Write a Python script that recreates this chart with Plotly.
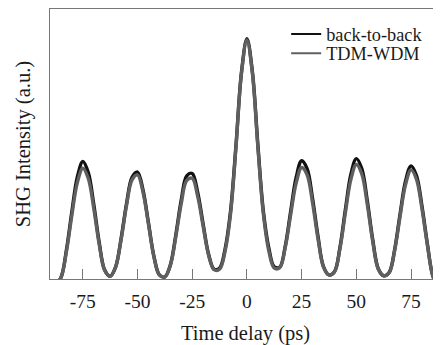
import plotly.graph_objects as go

# Time delay grid (ps)
time_ps = [-90, -87.5, -85, -82.5, -80, -77.5, -75, -72.5, -70, -67.5, -65,
           -62.5, -60, -57.5, -55, -52.5, -50, -47.5, -45, -42.5, -40,
           -37.5, -35, -32.5, -30, -27.5, -25, -22.5, -20, -17.5, -15,
           -12.5, -10, -7.5, -5, -2.5, 0, 2.5, 5, 7.5, 10,
           12.5, 15, 17.5, 20, 22.5, 25, 27.5, 30, 32.5, 35,
           37.5, 40, 42.5, 45, 47.5, 50, 52.5, 55, 57.5, 60,
           62.5, 65, 67.5, 70, 72.5, 75, 77.5, 80, 82.5, 85, 87.5, 90]

back_to_back = [-0.04, -0.02, 0.005, 0.107, 0.25, 0.378, 0.435, 0.394, 0.277, 0.135, 0.033,
                0.01, 0.045, 0.15, 0.28, 0.377, 0.396, 0.33, 0.208, 0.084, 0.015,
                0.008, 0.052, 0.163, 0.293, 0.382, 0.391, 0.321, 0.203, 0.091, 0.036,
                0.04, 0.11, 0.25, 0.495, 0.765, 0.89, 0.768, 0.498, 0.252, 0.115,
                0.045, 0.044, 0.121, 0.251, 0.376, 0.438, 0.409, 0.298, 0.157, 0.046,
                0.015, 0.027, 0.116, 0.257, 0.387, 0.446, 0.409, 0.291, 0.146, 0.039,
                0.012, 0.024, 0.108, 0.241, 0.363, 0.419, 0.383, 0.27, 0.129, 0.01, -0.03, -0.06]

tdm_wdm = [-0.04, -0.02, 0.005, 0.101, 0.236, 0.357, 0.41, 0.372, 0.261, 0.128, 0.032,
           0.01, 0.044, 0.146, 0.273, 0.367, 0.386, 0.322, 0.203, 0.082, 0.015,
           0.008, 0.05, 0.156, 0.28, 0.365, 0.373, 0.306, 0.195, 0.088, 0.035,
           0.036, 0.102, 0.24, 0.488, 0.761, 0.885, 0.762, 0.489, 0.242, 0.104,
           0.04, 0.042, 0.116, 0.238, 0.355, 0.413, 0.386, 0.282, 0.148, 0.044,
           0.015, 0.026, 0.111, 0.245, 0.368, 0.424, 0.389, 0.277, 0.139, 0.037,
           0.012, 0.023, 0.104, 0.232, 0.35, 0.404, 0.369, 0.26, 0.125, 0.01, -0.03, -0.06]

x_ticks = [-75, -50, -25, 0, 25, 50, 75]
x_tick_labels = ["-75", "-50", "-25", "0", "25", "50", "75"]

FONT = "Liberation Serif, Times New Roman, serif"
BLACK = "#111111"
GRAY = "#5f5f5f"

fig = go.Figure()
# data traces (legend entries drawn by thin-line proxies below)
fig.add_trace(go.Scatter(x=time_ps, y=back_to_back, mode="lines", name="back-to-back",
                         legendgroup="b2b", showlegend=False,
                         line=dict(color=BLACK, width=3.4, shape="spline", smoothing=1.0)))
fig.add_trace(go.Scatter(x=time_ps, y=tdm_wdm, mode="lines", name="TDM-WDM",
                         legendgroup="tdm", showlegend=False,
                         line=dict(color=GRAY, width=3.4, shape="spline", smoothing=1.0)))
fig.add_trace(go.Scatter(x=[None], y=[None], mode="lines", name="back-to-back",
                         legendgroup="b2b", legend="legend",
                         line=dict(color=BLACK, width=2)))
fig.add_trace(go.Scatter(x=[None], y=[None], mode="lines", name="TDM-WDM",
                         legendgroup="tdm", legend="legend2",
                         line=dict(color=GRAY, width=2)))

leg_common = dict(xanchor="left", yanchor="middle", bgcolor="rgba(0,0,0,0)",
                  font=dict(size=18.3, family=FONT, color="#1a1a1a"), itemwidth=30,
                  borderwidth=0)
# the page body adds an 8 px offset, so the figure is sized 8 px smaller
fig.update_layout(
    width=433, height=337,
    margin=dict(l=42, r=0, t=1, b=66),
    paper_bgcolor="white", plot_bgcolor="white",
    font=dict(family=FONT, size=19.5, color="#1a1a1a"),
    showlegend=True,
    legend=dict(x=0.604, y=0.907, **leg_common),
    legend2=dict(x=0.604, y=0.836, **leg_common),
)
fig.update_xaxes(range=[-90, 88.7], tickmode="array", tickvals=x_ticks, ticktext=x_tick_labels,
                 ticks="inside", ticklen=10, tickcolor="#777777", tickwidth=1,
                 tickfont=dict(size=19.5, family=FONT), ticklabelstandoff=4,
                 showline=True, linecolor="#777777", linewidth=1.2, mirror=True,
                 showgrid=False, zeroline=False, automargin=False,
                 title=dict(text="Time delay (ps)", font=dict(size=20.5, family=FONT), standoff=18))
fig.update_yaxes(range=[0, 1], showticklabels=False, ticks="",
                 showline=True, linecolor="#777777", linewidth=1.2,
                 showgrid=False, zeroline=False, automargin=False,
                 title=dict(text="SHG Intensity (a.u.)", font=dict(size=20.5, family=FONT), standoff=12))

fig.write_html("out.html")
